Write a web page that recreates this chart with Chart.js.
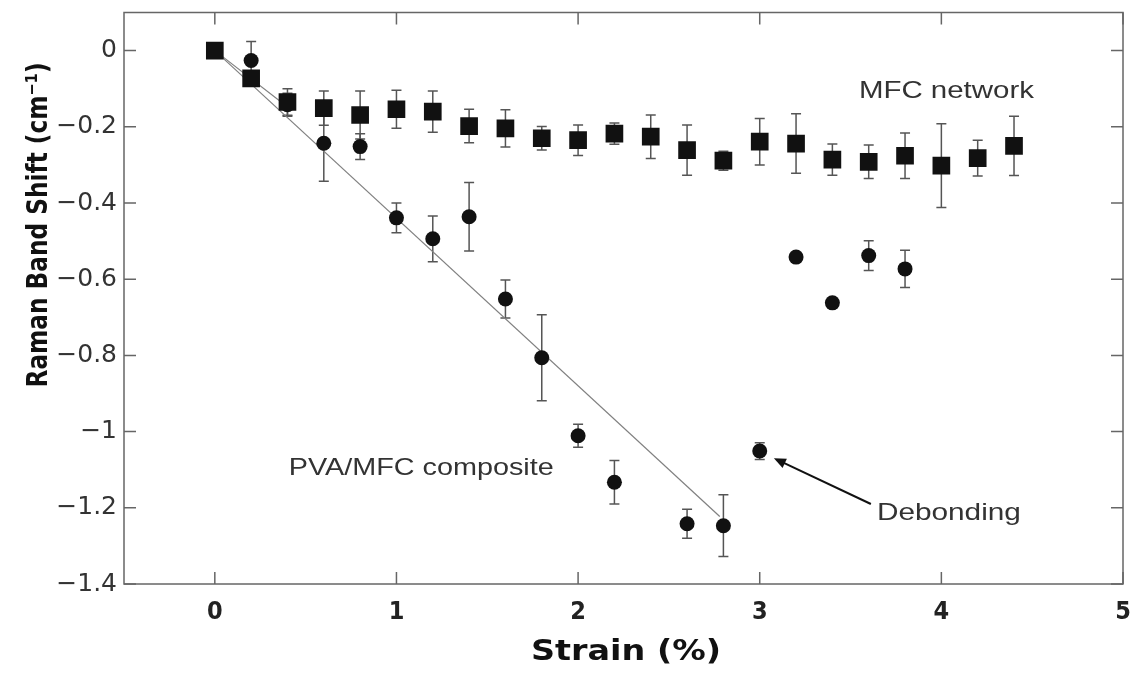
<!DOCTYPE html>
<html lang="en">
<head>
<meta charset="UTF-8">
<title>Raman Band Shift vs Strain</title>
<script src="https://cdn.jsdelivr.net/npm/chart.js"></script>
<style>
  body { margin: 0; background: #fff; }
  #wrap { width: 1139px; height: 681px; }
</style>
</head>
<body>
<div id="wrap"><canvas id="chart" width="1139" height="681"></canvas></div>
<script>
// tick labels
const xTicks = [0, 1, 2, 3, 4, 5];
const yTicks = [0, -0.2, -0.4, -0.6, -0.8, -1, -1.2, -1.4];

// MFC network (squares)
const strainMfc = [0, 0.2, 0.4, 0.6, 0.8, 1.0, 1.2, 1.4, 1.6, 1.8, 2.0, 2.2, 2.4, 2.6, 2.8, 3.0, 3.2, 3.4, 3.6, 3.8, 4.0, 4.2, 4.4];
const shiftMfc  = [0, -0.073, -0.135, -0.151, -0.169, -0.154, -0.160, -0.198, -0.204, -0.230, -0.235, -0.218, -0.226, -0.261, -0.289, -0.239, -0.244, -0.286, -0.292, -0.276, -0.302, -0.282, -0.250];
const errMfc    = [0, 0.01, 0.035, 0.045, 0.063, 0.05, 0.054, 0.044, 0.049, 0.031, 0.04, 0.028, 0.057, 0.066, 0.025, 0.061, 0.078, 0.041, 0.044, 0.06, 0.11, 0.047, 0.078];

// PVA/MFC composite (circles)
const strainPva = [0, 0.2, 0.4, 0.6, 0.8, 1.0, 1.2, 1.4, 1.6, 1.8, 2.0, 2.2, 2.6, 2.8, 3.0, 3.2, 3.4, 3.6, 3.8];
const shiftPva  = [0, -0.026, -0.142, -0.243, -0.252, -0.439, -0.494, -0.436, -0.652, -0.806, -1.011, -1.133, -1.242, -1.247, -1.051, -0.542, -0.662, -0.538, -0.573];
const errPva    = [0, 0.05, 0.03, 0.1, 0.034, 0.039, 0.06, 0.09, 0.05, 0.113, 0.03, 0.057, 0.038, 0.081, 0.022, 0, 0, 0.039, 0.049];

// linear fits
const fitX = [0, 2.78];
const fitY = [0, -1.223];
const fit2X = [0, 0.42];
const fit2Y = [0, -0.155];

const fmt = v => v === 0 ? '0' : String(v).replace('-', '\u2212');
const pts = (xs, ys) => xs.map((x, i) => ({ x: x, y: ys[i] }));

// draw text squeezed/stretched to a given width
function fitText(ctx, text, x, y, width, align) {
    const w = ctx.measureText(text).width;
    const sx = width / w;
    ctx.save();
    ctx.translate(x, y);
    ctx.scale(sx, 1);
    ctx.textAlign = align || 'left';
    ctx.fillText(text, 0, 0);
    ctx.restore();
}

const decorations = {
    id: 'decorations',
    beforeDatasetsDraw(chart) {
        const { ctx, scales: { x, y } } = chart;
        ctx.save();
        // error bars
        ctx.strokeStyle = '#555';
        ctx.lineWidth = 1.5;
        const bars = (xs, ys, es) => {
            xs.forEach((v, i) => {
                if (!es[i]) return;
                const px = x.getPixelForValue(v);
                const t = y.getPixelForValue(ys[i] + es[i]);
                const b = y.getPixelForValue(ys[i] - es[i]);
                ctx.beginPath();
                ctx.moveTo(px, t); ctx.lineTo(px, b);
                ctx.moveTo(px - 5, t); ctx.lineTo(px + 5, t);
                ctx.moveTo(px - 5, b); ctx.lineTo(px + 5, b);
                ctx.stroke();
            });
        };
        bars(strainMfc, shiftMfc, errMfc);
        bars(strainPva, shiftPva, errPva);
        ctx.restore();
    },
    afterDraw(chart) {
        const { ctx, chartArea: a, scales: { x, y } } = chart;
        ctx.save();
        // frame and inward ticks
        ctx.strokeStyle = '#666';
        ctx.lineWidth = 1.5;
        ctx.strokeRect(a.left, a.top, a.right - a.left, a.bottom - a.top);
        ctx.beginPath();
        xTicks.forEach(v => {
            const px = x.getPixelForValue(v);
            ctx.moveTo(px, a.bottom); ctx.lineTo(px, a.bottom - 12);
            ctx.moveTo(px, a.top); ctx.lineTo(px, a.top + 12);
        });
        yTicks.forEach(v => {
            const py = y.getPixelForValue(v);
            ctx.moveTo(a.left, py); ctx.lineTo(a.left + 12, py);
            ctx.moveTo(a.right, py); ctx.lineTo(a.right - 12, py);
        });
        ctx.stroke();

        // annotations
        ctx.fillStyle = '#333';
        ctx.textBaseline = 'alphabetic';
        ctx.font = '24px "Liberation Sans", Arial, sans-serif';
        fitText(ctx, 'MFC network', x.getPixelForValue(3.546), y.getPixelForValue(-0.124), 175);
        fitText(ctx, 'PVA/MFC composite', x.getPixelForValue(0.407), y.getPixelForValue(-1.114), 265);
        fitText(ctx, 'Debonding', x.getPixelForValue(3.645), y.getPixelForValue(-1.232), 144);

        // arrow
        const tx = x.getPixelForValue(3.612), ty = y.getPixelForValue(-1.190);
        const hx = x.getPixelForValue(3.078), hy = y.getPixelForValue(-1.070);
        const ang = Math.atan2(hy - ty, hx - tx);
        ctx.strokeStyle = '#111';
        ctx.lineWidth = 2;
        ctx.beginPath();
        ctx.moveTo(tx, ty);
        ctx.lineTo(hx - 8 * Math.cos(ang), hy - 8 * Math.sin(ang));
        ctx.stroke();
        ctx.fillStyle = '#111';
        ctx.beginPath();
        ctx.moveTo(hx, hy);
        ctx.lineTo(hx - 13 * Math.cos(ang - 0.4), hy - 13 * Math.sin(ang - 0.4));
        ctx.lineTo(hx - 13 * Math.cos(ang + 0.4), hy - 13 * Math.sin(ang + 0.4));
        ctx.closePath();
        ctx.fill();

        // axis titles
        ctx.fillStyle = '#111';
        ctx.font = 'bold 28px "DejaVu Sans Condensed", "DejaVu Sans", sans-serif';
        fitText(ctx, 'Strain (%)', 626, 660, 190, 'center');
        ctx.save();
        ctx.translate(47, 225);
        ctx.rotate(-Math.PI / 2);
        ctx.font = 'bold 29px "DejaVu Sans Condensed", "DejaVu Sans", sans-serif';
        fitText(ctx, 'Raman Band Shift (cm\u207B\u00B9)', 0, 0, 325, 'center');
        ctx.restore();
        ctx.restore();
    }
};

new Chart(document.getElementById('chart'), {
    type: 'scatter',
    data: {
        datasets: [
            {
                label: 'MFC network',
                data: pts(strainMfc, shiftMfc),
                pointStyle: 'rect',
                pointRadius: 12.5,
                backgroundColor: '#111',
                borderColor: '#111',
                borderWidth: 0,
                order: 0
            },
            {
                label: 'PVA/MFC composite',
                data: pts(strainPva, shiftPva),
                pointStyle: 'circle',
                pointRadius: 7.5,
                backgroundColor: '#111',
                borderColor: '#111',
                borderWidth: 0,
                order: 1
            },
            {
                type: 'line',
                label: 'fit',
                data: pts(fitX, fitY),
                borderColor: '#808080',
                borderWidth: 1.2,
                pointRadius: 0,
                fill: false,
                order: 3
            },
            {
                type: 'line',
                label: 'fit2',
                data: pts(fit2X, fit2Y),
                borderColor: '#808080',
                borderWidth: 1.2,
                pointRadius: 0,
                fill: false,
                order: 3
            }
        ]
    },
    options: {
        responsive: false,
        animation: false,
        layout: { padding: { left: 0, top: 11, right: 16, bottom: 0 } },
        plugins: { legend: { display: false }, tooltip: { enabled: false } },
        scales: {
            x: {
                type: 'linear',
                min: -0.5,
                max: 5,
                grid: { display: false, drawTicks: false },
                border: { display: false },
                ticks: {
                    padding: 13,
                    color: '#222',
                    font: { family: '"DejaVu Sans Condensed", "DejaVu Sans", sans-serif', size: 25, weight: 'bold' },
                    callback: v => fmt(v)
                },
                afterBuildTicks: s => { s.ticks = xTicks.map(v => ({ value: v })); },
                afterFit: s => { s.height = 97; s.paddingLeft = 0; s.paddingRight = 0; }
            },
            y: {
                type: 'linear',
                min: -1.4,
                max: 0.1,
                grid: { display: false, drawTicks: false },
                border: { display: false },
                ticks: {
                    padding: 7,
                    color: '#333',
                    font: { family: '"DejaVu Sans", Verdana, sans-serif', size: 25 },
                    callback: v => fmt(v)
                },
                afterBuildTicks: s => { s.ticks = yTicks.map(v => ({ value: v })); },
                afterFit: s => { s.width = 124; s.paddingTop = 0; s.paddingBottom = 0; }
            }
        }
    },
    plugins: [decorations]
});
</script>
</body>
</html>
